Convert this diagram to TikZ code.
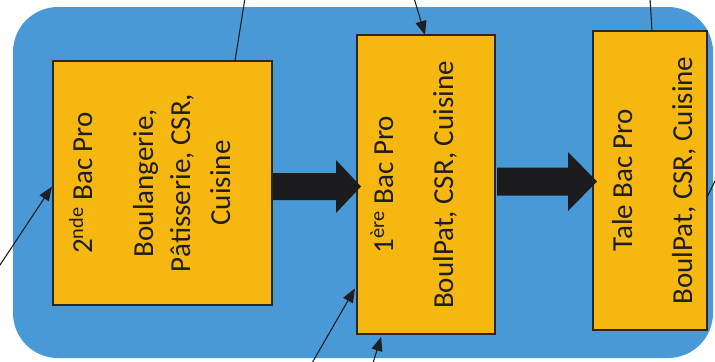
\documentclass[tikz,border=0pt]{standalone}
\usepackage{fontspec}
\newfontfamily\lblfont{Carlito}
\usetikzlibrary{arrows.meta}
\definecolor{bgblue}{RGB}{72,153,213}
\definecolor{boxorange}{RGB}{246,184,16}
\definecolor{boxline}{RGB}{40,40,40}
\definecolor{arrowblack}{RGB}{28,28,30}
\definecolor{linegray}{RGB}{30,30,35}
\definecolor{textdark}{RGB}{30,30,30}
\tikzset{
  bg/.style={fill=bgblue, rounded corners=45bp},
  boxnode/.style={draw=boxline, line width=1.3bp, fill=boxorange, inner sep=0pt, outer sep=0pt},
  bigarrow/.style={fill=arrowblack},
  lbl/.style={rotate=90, anchor=base, inner sep=0pt, text=textdark,
    font=\lblfont\fontsize{29bp}{35bp}\selectfont},
  link/.style={draw=linegray, line width=1.1bp},
  linkarrow/.style={link, -{Triangle[length=14bp,width=11bp]}}
}
\begin{document}
\begin{tikzpicture}[x=1bp, y=-1bp]
\useasboundingbox (0,0) rectangle (715,361);
% background panel
\fill[bg] (13,7) rectangle (713,358);
% boxes
\node[boxnode, minimum width=219bp, minimum height=244bp] (b1) at (162.5,183) {};
\node[boxnode, minimum width=138bp, minimum height=299bp] (b2) at (426,184.5) {};
\node[boxnode, minimum width=114bp, minimum height=299bp] (b3) at (650,180.5) {};
% big arrows
\fill[bigarrow] (273,173) -- (336,173) -- (336,160) -- (361,186.5) -- (336,213) -- (336,200) -- (273,200) -- cycle;
\fill[bigarrow] (497,167.5) -- (568,167.5) -- (568,152) -- (597,181.5) -- (568,211) -- (568,195.5) -- (497,195.5) -- cycle;
% texts
\node[lbl] (t1a) at (92,183) {2\textsuperscript{nde} Bac Pro};
\node[lbl] (t1b) at (153,183) {Boulangerie,};
\node[lbl] (t1c) at (190,183) {Pâtisserie, CSR,};
\node[lbl] (t1d) at (230,183) {Cuisine};
\node[lbl] (t2a) at (393,184.5) {1\textsuperscript{ère} Bac Pro};
\node[lbl] (t2b) at (453,185) {BoulPat, CSR, Cuisine};
\node[lbl] (t3a) at (632,180.5) {Tale Bac Pro};
\node[lbl] (t3b) at (692,180.5) {BoulPat, CSR, Cuisine};
% free ends
\coordinate (e1) at (245,-2);
\coordinate (e2) at (414,-2);
\coordinate (e3) at (650,-2);
\coordinate (e4) at (-2,268);
\coordinate (e5) at (312,363);
\coordinate (e6) at (373,363);
\coordinate (e7) at (718,175);
% connectors
\draw[link] (e1) -- ([xshift=182bp]b1.north west);
\draw[linkarrow] (e2) -- ([xshift=68bp]b2.north west);
\draw[link] (e3) -- ([xshift=59bp]b3.north west);
\draw[linkarrow, shorten >=2bp] (e4) -- ([yshift=-124bp]b1.north west);
\draw[linkarrow, shorten >=4bp] (e5) -- ([yshift=-250bp]b2.north west);
\draw[linkarrow, shorten >=3bp] (e6) -- ([xshift=25bp]b2.south west);
\draw[link] ([yshift=-166bp]b3.north east) -- (e7);
\end{tikzpicture}
\end{document}
